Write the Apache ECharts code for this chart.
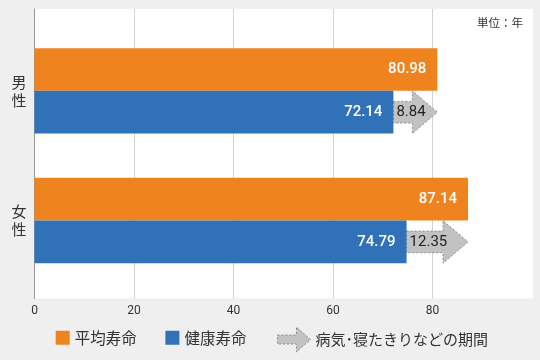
<!DOCTYPE html>
<html>
<head>
<meta charset="utf-8">
<script src="https://cdn.jsdelivr.net/npm/echarts@6/dist/echarts.min.js"></script>
<style>
html,body{margin:0;padding:0;background:#efefef;}
#c{width:540px;height:360px;}
</style>
</head>
<body>
<div id="c"></div>
<script>
const categories = ['男性', '女性'];
const seriesNames = ['平均寿命', '健康寿命', '病気･寝たきりなどの期間'];
const averageLife = [80.98, 87.14];
const healthyLife = [72.14, 74.79];
const illnessPeriod = [8.84, 12.35];
const xTicks = [0, 20, 40, 60, 80];
const unitLabel = '単位：年';

const ORANGE = '#ef841f';
const BLUE = '#3171b7';
const GRAY = '#c2c2c2';
const BAR_W = 42.7;
const JP = '"Noto Sans CJK JP", sans-serif';
const NUM = 'Roboto, sans-serif';

const chart = echarts.init(document.getElementById('c'), null, {renderer: 'canvas'});

chart.setOption({
  backgroundColor: '#efefef',
  animation: false,
  title: {
    text: unitLabel, right: 17, top: 17, padding: 0,
    textStyle: {fontSize: 11.5, fontWeight: 'normal', color: '#333', fontFamily: JP}
  },
  grid: [
    {left: 34.5, right: 8, top: 9, bottom: 61.5, show: true, backgroundColor: '#fff', borderWidth: 0},
    {left: 34.5, right: 8, top: 26, bottom: 74.6}
  ],
  xAxis: [
    {
      gridIndex: 0, type: 'value', min: 0, max: 100, interval: 20,
      axisLine: {show: false}, axisTick: {show: false},
      axisLabel: {
        margin: 6, color: '#333', fontSize: 12, fontFamily: NUM,
        formatter: v => xTicks.indexOf(v) >= 0 ? String(v) : ''
      },
      splitLine: {show: true, lineStyle: {color: ['#d2d2d2', '#d2d2d2', '#d2d2d2', '#d2d2d2', '#d2d2d2', '#ffffff'], width: 1}}
    },
    {gridIndex: 1, type: 'value', min: 0, max: 100, show: false}
  ],
  yAxis: [
    {
      gridIndex: 0, type: 'value', min: 0, max: 1,
      axisLine: {show: true, lineStyle: {color: '#999', width: 1}},
      axisTick: {show: false}, axisLabel: {show: false}, splitLine: {show: false}
    },
    {
      gridIndex: 1, type: 'category', data: categories, inverse: true,
      axisLine: {show: false}, axisTick: {show: false}, splitLine: {show: false},
      axisLabel: {
        margin: 8, color: '#333', fontSize: 15, lineHeight: 18, fontFamily: JP,
        formatter: v => v.split('').join('\n')
      }
    }
  ],
  legend: [
    {
      left: 55.7, top: 330, padding: 0, itemGap: 28.7, itemWidth: 14, itemHeight: 14,
      textStyle: {fontSize: 15.5, color: '#333', fontFamily: JP},
      data: [
        {name: seriesNames[0], icon: 'rect'},
        {name: seriesNames[1], icon: 'rect'}
      ]
    },
    {
      left: 277, top: 326.5, padding: 0, itemWidth: 33, itemHeight: 25,
      textStyle: {fontSize: 15, color: '#333', fontFamily: JP},
      data: [{
        name: seriesNames[2],
        icon: 'path://M0,8 L19,8 L19,0 L33,12.5 L19,25 L19,17 L0,17 Z',
        itemStyle: {color: GRAY, borderColor: '#888', borderWidth: 1, borderType: [2, 2]}
      }]
    }
  ],
  series: [
    {
      name: seriesNames[0], type: 'bar', xAxisIndex: 1, yAxisIndex: 1,
      data: averageLife, barWidth: BAR_W, barGap: '0%',
      itemStyle: {color: ORANGE},
      label: {
        show: true, position: 'insideRight', distance: 11, color: '#fff',
        fontSize: 15, fontFamily: NUM, fontWeight: 500,
        formatter: p => p.value.toFixed(2)
      }
    },
    {
      name: seriesNames[1], type: 'bar', xAxisIndex: 1, yAxisIndex: 1,
      data: healthyLife, barWidth: BAR_W, barGap: '0%',
      itemStyle: {color: BLUE},
      label: {
        show: true, position: 'insideRight', distance: 11, color: '#fff',
        fontSize: 15, fontFamily: NUM, fontWeight: 500,
        formatter: p => p.value.toFixed(2)
      }
    },
    {
      name: seriesNames[2], type: 'custom', xAxisIndex: 1, yAxisIndex: 1,
      itemStyle: {color: GRAY},
      encode: {x: 0, y: 1},
      data: healthyLife.map((h, i) => [h, i, illnessPeriod[i]]),
      renderItem: function (params, api) {
        const s = api.coord([api.value(0), api.value(1)]);
        const e = api.coord([api.value(0) + api.value(2), api.value(1)]);
        const cy = s[1] + BAR_W / 2;
        const bh = 10.8, hh = BAR_W / 2, hl = 25;
        const hx = e[0] - hl;
        return {
          type: 'group',
          children: [
            {
              type: 'polygon',
              shape: {points: [[s[0], cy - bh], [hx, cy - bh], [hx, cy - hh], [e[0], cy], [hx, cy + hh], [hx, cy + bh], [s[0], cy + bh]]},
              style: {fill: GRAY, stroke: '#8a8a8a', lineWidth: 1, lineDash: [2, 2]}
            },
            {
              type: 'text',
              x: s[0] + 3, y: cy,
              style: {
                text: api.value(2).toFixed(2), fill: '#222', fontSize: 15, fontFamily: NUM,
                verticalAlign: 'middle', align: 'left'
              }
            }
          ]
        };
      }
    }
  ]
});
</script>
</body>
</html>
